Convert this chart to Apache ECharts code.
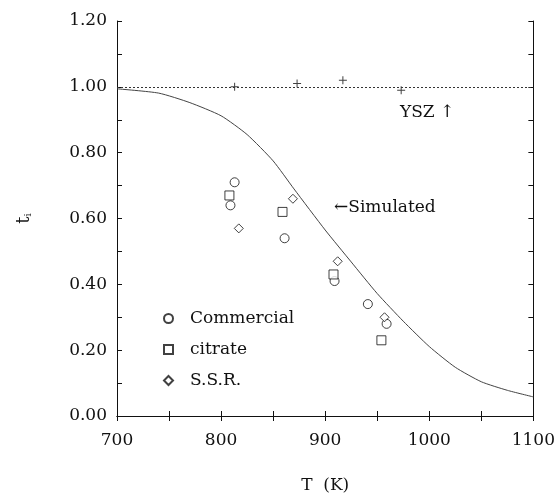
<!DOCTYPE html>
<html>
<head>
<meta charset="utf-8">
<script src="https://cdn.jsdelivr.net/npm/echarts@6/dist/echarts.min.js"></script>
<style>
  html, body { margin: 0; padding: 0; background: #fff; }
</style>
</head>
<body>
<div id="chart_con" style="width:558px;height:502px;"></div>
<script>
// data: [T (K), t_i]
var commercialPts = [[813, 0.71], [809, 0.64], [861, 0.54], [909, 0.41], [941, 0.34], [959, 0.28]];
var citratePts = [[808, 0.67], [859, 0.62], [908, 0.43], [954, 0.23]];
var ssrPts = [[817, 0.57], [869, 0.66], [912, 0.47], [957, 0.30]];
var yszPts = [[813, 1.00], [873, 1.01], [917, 1.02], [973, 0.99]];
var simT = [700, 740, 770, 800, 825, 850, 870, 900, 925, 950, 975, 1000, 1025, 1050, 1075, 1100];
var simT_i = [0.994, 0.981, 0.952, 0.912, 0.855, 0.775, 0.690, 0.565, 0.468, 0.372, 0.288, 0.211, 0.148, 0.104, 0.078, 0.058];
var yszLevel = 1.00;

var FONT = 'DejaVu Serif';
var INK = '#111';
var plusPath = 'path://M0,3.5H3.5V0H4.5V3.5H8V4.5H4.5V8H3.5V4.5H0Z';

var simData = [];
for (var i = 0; i < simT.length; i++) {
    simData.push([simT[i], simT_i[i]]);
}

var axisLine = { show: true, lineStyle: { color: INK, width: 1 } };
var tickIn = { show: true, inside: true, length: 5, lineStyle: { color: INK } };
var minorIn = { show: true, splitNumber: 2, length: 5, lineStyle: { color: INK } };

var option = {
    animation: false,
    backgroundColor: '#fff',
    grid: { left: 117, right: 21, top: 21, bottom: 86 },
    xAxis: [
        {
            type: 'value',
            min: 700, max: 1100, interval: 100,
            position: 'bottom',
            name: 'T  (K)',
            nameLocation: 'middle',
            nameGap: 61,
            nameTextStyle: { fontFamily: FONT, fontSize: 17, color: INK },
            axisLine: axisLine,
            axisTick: tickIn,
            minorTick: minorIn,
            splitLine: { show: false },
            axisLabel: {
                margin: 16, fontFamily: FONT, fontSize: 17, color: INK,
                formatter: function (v) { return String(v); }
            }
        },
        {
            type: 'value',
            min: 700, max: 1100, interval: 100,
            position: 'top',
            axisLine: axisLine,
            axisTick: tickIn,
            minorTick: minorIn,
            splitLine: { show: false },
            axisLabel: { show: false }
        }
    ],
    yAxis: [
        {
            type: 'value',
            min: 0, max: 1.2, interval: 0.2,
            position: 'left',
            name: '{a|t}{b|i}',
            nameLocation: 'middle',
            nameRotate: 90,
            nameGap: 84,
            nameTextStyle: {
                color: INK,
                rich: {
                    a: { fontFamily: FONT, fontSize: 18, color: INK },
                    b: { fontFamily: FONT, fontSize: 10, color: INK, verticalAlign: 'bottom', padding: [8, 0, 0, 0] }
                }
            },
            axisLine: axisLine,
            axisTick: tickIn,
            minorTick: minorIn,
            splitLine: { show: false },
            axisLabel: {
                margin: 10, fontFamily: FONT, fontSize: 17, color: INK,
                formatter: function (v) { return v.toFixed(2); }
            }
        },
        {
            type: 'value',
            min: 0, max: 1.2, interval: 0.2,
            position: 'right',
            axisLine: axisLine,
            axisTick: tickIn,
            minorTick: minorIn,
            splitLine: { show: false },
            axisLabel: { show: false }
        }
    ],
    legend: {
        orient: 'vertical',
        left: 158,
        top: 305,
        itemWidth: 9,
        itemHeight: 9,
        itemGap: 14,
        data: ['Commercial', 'citrate', 'S.S.R.'],
        textStyle: { fontFamily: FONT, fontSize: 17, color: INK, lineHeight: 17, padding: [0, 0, 0, 12] }
    },
    series: [
        {
            name: 'Simulated',
            type: 'line',
            data: simData,
            smooth: 0.2,
            showSymbol: false,
            symbol: 'none',
            lineStyle: { color: '#444', width: 1 },
            z: 1
        },
        {
            name: 'YSZ',
            type: 'scatter',
            data: yszPts,
            symbol: plusPath,
            symbolSize: 8,
            itemStyle: { color: INK },
            markLine: {
                silent: true,
                symbol: 'none',
                label: { show: false },
                lineStyle: { color: '#333', width: 1, type: [2, 2] },
                data: [{ yAxis: yszLevel }]
            }
        },
        {
            name: 'Commercial',
            type: 'scatter',
            data: commercialPts,
            symbol: 'circle',
            symbolSize: 9,
            itemStyle: { color: '#fff', borderColor: INK, borderWidth: 1 }
        },
        {
            name: 'citrate',
            type: 'scatter',
            data: citratePts,
            symbol: 'rect',
            symbolSize: 9,
            itemStyle: { color: '#fff', borderColor: INK, borderWidth: 1 }
        },
        {
            name: 'S.S.R.',
            type: 'scatter',
            data: ssrPts,
            symbol: 'diamond',
            symbolSize: 9,
            itemStyle: { color: '#fff', borderColor: INK, borderWidth: 1 }
        }
    ],
    graphic: [
        {
            type: 'text',
            left: 400, top: 104,
            style: { text: 'YSZ \u2191', fontFamily: FONT, fontSize: 17, fill: INK }
        },
        {
            type: 'text',
            left: 334, top: 199,
            style: { text: '\u2190Simulated', fontFamily: FONT, fontSize: 17, fill: INK }
        }
    ]
};

var chart = echarts.init(document.getElementById('chart_con'));
chart.setOption(option);

window.addEventListener('resize', function () {
    chart.resize();
});
</script>
</body>
</html>
